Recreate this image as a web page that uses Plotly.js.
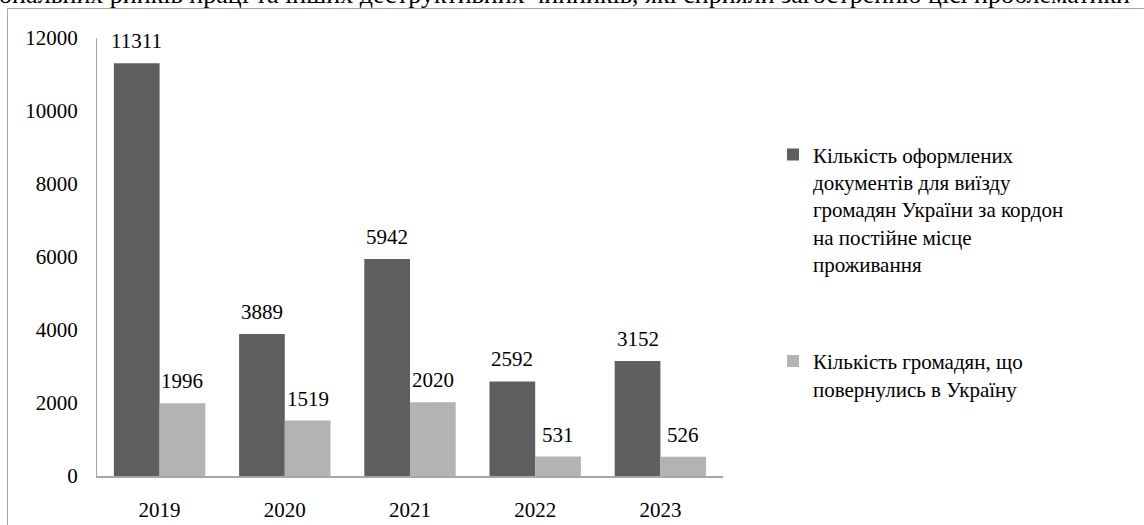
<!DOCTYPE html>
<html>
<head>
<meta charset="utf-8">
<script src="https://cdn.plot.ly/plotly-3.0.1.min.js"></script>
<style>
html,body{margin:0;padding:0;background:#fff;overflow:hidden;}
#chart{width:1144px;height:525px;}
</style>
</head>
<body>
<div id="chart"></div>
<script>
const years = ['2019', '2020', '2021', '2022', '2023'];
const documentsIssued = [11311, 3889, 5942, 2592, 3152];
const returnedCitizens = [1996, 1519, 2020, 531, 526];
const seriesNames = [
  'Кількість оформлених<br>документів для виїзду<br>громадян України за кордон<br>на постійне місце<br>проживання',
  'Кількість громадян, що<br>повернулись в Україну'
];
const topText = 'ональних ринків праці та інших деструктивних чинників, які сприяли загостренню цієї проблематики';
const colors = ['#5f5f5f', '#b3b3b3'];

const FONT = '"Liberation Serif", "Times New Roman", serif';
const W = 1144, H = 525;
const M = {l: 97, r: 421, t: 37.5, b: 49};
const plotW = W - M.l - M.r, plotH = H - M.t - M.b;
const bargap = 0.27;
const off = (1 - bargap) / 4;

const traces = [
  {type: 'bar', x: years, y: documentsIssued, name: seriesNames[0], legendgroup: 'a',
   marker: {color: colors[0], line: {width: 0}}, hoverinfo: 'none'},
  {type: 'bar', x: years, y: returnedCitizens, name: seriesNames[1], legendgroup: 'b',
   marker: {color: colors[1], line: {width: 0}}, hoverinfo: 'none'}
];

const annotations = [];
[documentsIssued, returnedCitizens].forEach((arr, s) => {
  arr.forEach((v, i) => {
    annotations.push({
      x: i + (s === 0 ? -off : off), y: v, xref: 'x', yref: 'y',
      text: String(v), showarrow: false, yanchor: 'middle', yshift: 22,
      font: {family: FONT, size: 21, color: '#000'}
    });
  });
});
annotations.push({
  xref: 'paper', yref: 'paper', x: (-3 - M.l) / plotW, y: 1 + (M.t + 6) / plotH,
  xanchor: 'left', yanchor: 'middle', text: topText, showarrow: false,
  font: {family: FONT, size: 26, color: '#000'}
});

const layout = {
  width: W, height: H,
  margin: M,
  paper_bgcolor: '#fff', plot_bgcolor: '#fff',
  barmode: 'group', bargap: bargap, bargroupgap: 0,
  font: {family: FONT, size: 21, color: '#000'},
  xaxis: {type: 'category', showline: true, linecolor: '#a6a6a6', linewidth: 1.5,
          ticks: '', showgrid: false, zeroline: false, ticklabelstandoff: 14,
          tickfont: {family: FONT, size: 21, color: '#000'}},
  yaxis: {range: [0, 12000], dtick: 2000, tickformat: 'd', showline: true, linecolor: '#a6a6a6', linewidth: 1,
          ticks: '', showgrid: false, zeroline: false, ticklabelstandoff: 14,
          tickfont: {family: FONT, size: 21, color: '#000'}},
  showlegend: true,
  legend: {x: (773 - M.l) / plotW, xanchor: 'left', y: 1 - (134 - M.t) / plotH, yanchor: 'top',
           valign: 'top', tracegroupgap: 67, traceorder: 'grouped',
           font: {family: FONT, size: 21, color: '#000'}, bgcolor: 'rgba(0,0,0,0)'},
  annotations: annotations,
  shapes: [
    {type: 'line', xref: 'paper', yref: 'paper', x0: (7.5 - M.l) / plotW, x1: (7.5 - M.l) / plotW,
     y0: 1 + (M.t - 8) / plotH, y1: -(M.b + 5) / plotH, line: {color: '#a6a6a6', width: 1}},
    {type: 'line', xref: 'paper', yref: 'paper', x0: (7.5 - M.l) / plotW, x1: (W + 5 - M.l) / plotW,
     y0: 1 + (M.t - 8) / plotH, y1: 1 + (M.t - 8) / plotH, line: {color: '#a6a6a6', width: 1}}
  ]
};

Plotly.newPlot('chart', traces, layout, {displayModeBar: false, staticPlot: true});
</script>
</body>
</html>
